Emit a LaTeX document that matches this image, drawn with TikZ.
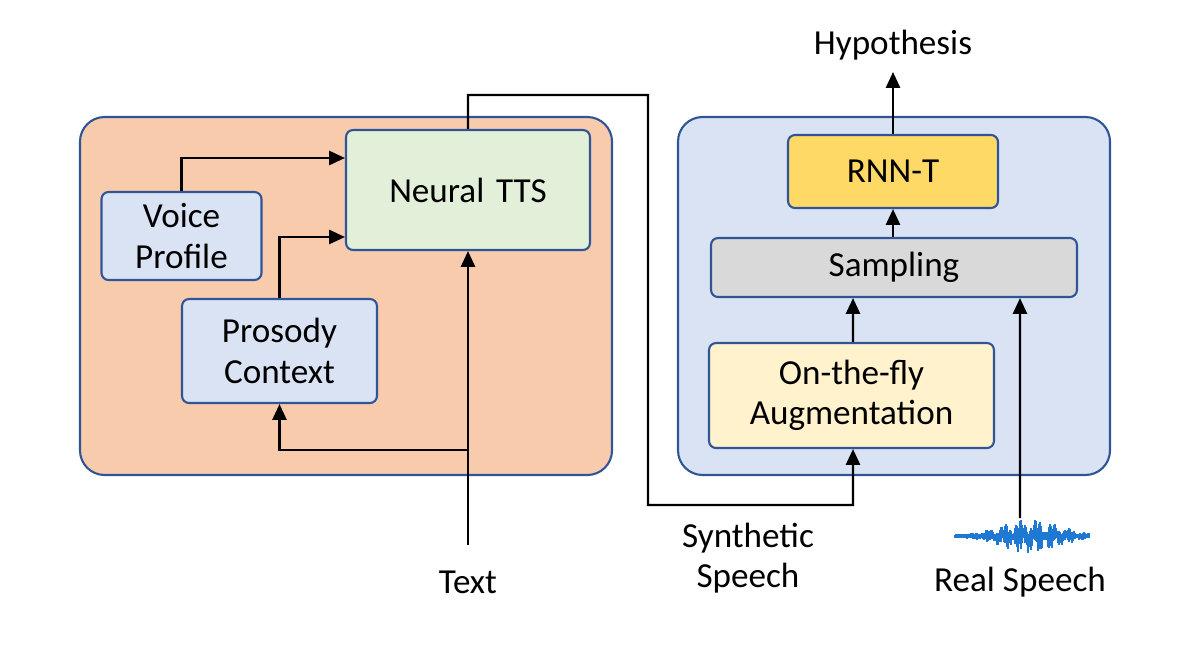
\documentclass[tikz,border=0pt]{standalone}
\usepackage{fontspec}
\setmainfont{Carlito}
\usetikzlibrary{arrows.meta}
\definecolor{ttsorange}{HTML}{F8CBAD}
\definecolor{asrblue}{HTML}{DAE3F3}
\definecolor{edgeblue}{HTML}{2F5597}
\definecolor{ttsgreen}{HTML}{E2F0D9}
\definecolor{rnnyellow}{HTML}{FFD966}
\definecolor{augyellow}{HTML}{FFF2CC}
\definecolor{sampgray}{HTML}{D9D9D9}
\definecolor{wave}{HTML}{1F78D1}

\begin{document}
\begin{tikzpicture}[x=0.02cm, y=-0.02cm]
   \tikzstyle{panel}=[draw=edgeblue, line width=1.2pt, rounded corners=14pt]
   \tikzstyle{block}=[draw=edgeblue, line width=1.2pt, rounded corners=4pt, align=center, font=\fontsize{20}{22}\selectfont, inner sep=0pt]
   \tikzstyle{flow}=[line width=1.3pt, -{Triangle[length=9pt, width=8pt]}]
   \tikzstyle{caption}=[font=\fontsize{20}{22}\selectfont, align=center]

\useasboundingbox (0,0) rectangle (1200,646);

% panels
\draw[panel, fill=ttsorange] (80,117) rectangle (612,475);
\draw[panel, fill=asrblue] (678,117) rectangle (1110,475);

% synthesis side
\node[block, fill=ttsgreen, text width=4.88cm, minimum height=2.4cm] (tts) at (468,190) {Neural TTS};
\node[block, fill=asrblue, text width=3.2cm, minimum height=1.76cm] (voice) at (181.5,236) {Voice\\[1pt]Profile};
\node[block, fill=asrblue, text width=3.9cm, minimum height=2.08cm] (prosody) at (279.5,351) {Prosody\\[1pt]Context};

% recognition side
\node[block, fill=rnnyellow, text width=4.2cm, minimum height=1.46cm] (rnnt) at (893,171.5) {RNN-T};
\node[block, fill=sampgray, text width=7.32cm, minimum height=1.18cm] (sampling) at (894,267.5) {Sampling};
\node[block, fill=augyellow, text width=5.7cm, minimum height=2.1cm] (aug) at (851.5,395.5) {On-the-fly\\[1pt]Augmentation};

% labels
\node[caption] (text) at (468,582) {Text};
\node[caption] (synth) at (748,558) {Synthetic\\[1pt]Speech};
\node[caption] (real) at (1020,582) {Real Speech};
\node[caption] (hyp) at (893,45) {Hypothesis};
\coordinate (textin) at (468,545);
\coordinate (realin) at (1020,518);
\coordinate (hypin) at (893,72);
\coordinate (split) at (468,450);
\coordinate (turn) at (648,95);
\coordinate (drop) at (853,505);

% waveform
\foreach \i in {0,...,134}
   \draw[wave, line width=0.8pt] (955+\i,{536-(1.5+16*abs(sin(\i*37)*cos(\i*11))*exp(-((\i-75)/40)^2))}) -- (955+\i,{536+(1.5+16*abs(sin(\i*53)*cos(\i*17))*exp(-((\i-75)/40)^2))});

% connectors
\draw[flow] (voice.north) |- ([yshift=0.64cm]tts.west);
\draw[flow] (prosody.north) |- ([yshift=-0.94cm]tts.west);
\draw[flow] (textin) -- (tts.south);
\draw[flow] (split) -| (prosody.south);
\draw[flow] (tts.north) |- (turn) |- (drop) -- ([xshift=0.03cm]aug.south);
\draw[flow] ([xshift=0.03cm]aug.north) -- ([xshift=-0.82cm]sampling.south);
\draw[flow] (realin) -- ([xshift=2.52cm]sampling.south);
\draw[flow] ([xshift=-0.02cm]sampling.north) -- (rnnt.south);
\draw[flow] (rnnt.north) -- (hypin);

\end{tikzpicture}
\end{document}
